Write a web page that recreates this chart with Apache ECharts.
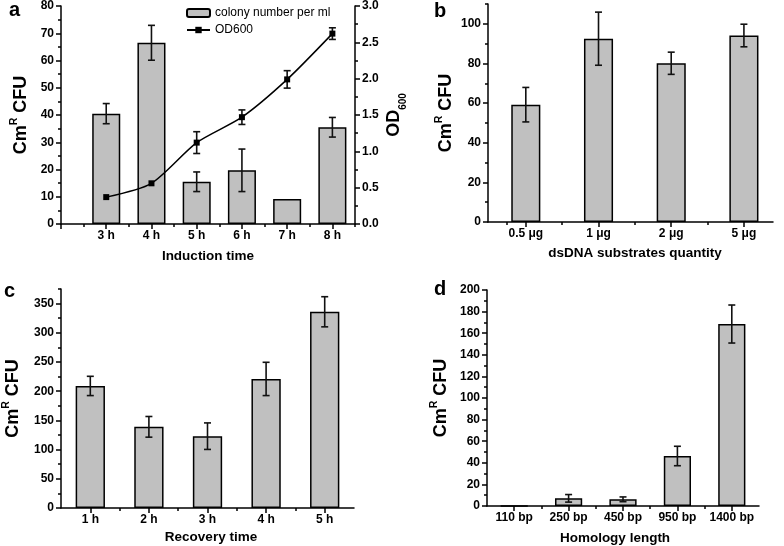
<!DOCTYPE html>
<html><head><meta charset="utf-8">
<script src="https://cdn.jsdelivr.net/npm/echarts@6/dist/echarts.min.js"></script>
<style>html,body{margin:0;padding:0;background:#fff}#c{width:784px;height:546px}</style>
</head><body><div id="c"></div>
<script>
// ---------- Panel a ----------
const aCategories = ['3 h', '4 h', '5 h', '6 h', '7 h', '8 h'];
const aColony = [40.5, 66.5, 15.5, 19.7, 9.2, 35.5];
const aColonyErr = [3.7, 6.4, 3.6, 7.8, 0, 3.6];
const aOD = [0.37, 0.56, 1.12, 1.47, 1.99, 2.62];
const aODErr = [0, 0, 0.15, 0.10, 0.12, 0.08];
const aLeftTicks = [0, 10, 20, 30, 40, 50, 60, 70, 80];
const aRightTicks = [0, 0.5, 1.0, 1.5, 2.0, 2.5, 3.0];
// ---------- Panel b ----------
const bCategories = ['0.5 μg', '1 μg', '2 μg', '5 μg'];
const bValues = [59.2, 92.5, 80.1, 94.1];
const bErr = [8.7, 13.4, 5.6, 5.7];
const bTicks = [0, 20, 40, 60, 80, 100];
// ---------- Panel c ----------
const cCategories = ['1 h', '2 h', '3 h', '4 h', '5 h'];
const cValues = [209, 139, 123, 221, 336];
const cErr = [16.5, 17.7, 22.7, 28.5, 25.8];
const cTicks = [0, 50, 100, 150, 200, 250, 300, 350];
// ---------- Panel d ----------
const dCategories = ['110 bp', '250 bp', '450 bp', '950 bp', '1400 bp'];
const dValues = [0, 7.1, 6.2, 46.3, 168.5];
const dErr = [0, 3.5, 2.2, 9.0, 17.6];
const dTicks = [0, 20, 40, 60, 80, 100, 120, 140, 160, 180, 200];

const FONT = "'Liberation Sans', Arial, sans-serif";
const BLACK = '#000';
const GREY = '#c0c0c0';

function mids(ticks, extraTop) {
  const out = [];
  for (let i = 1; i < ticks.length; i++) out.push((ticks[i - 1] + ticks[i]) / 2);
  if (extraTop != null) out.push(extraTop);
  return out;
}
const yName = {
  name: '{m|Cm}{s|R}{m| CFU}',
  rich: {
    m: {fontSize: 18, fontWeight: 'bold', fontFamily: FONT, color: BLACK, lineHeight: 21, verticalAlign: 'bottom'},
    s: {fontSize: 10.5, fontWeight: 'bold', fontFamily: FONT, color: BLACK, lineHeight: 11, verticalAlign: 'top'}
  }
};

const panels = [
  {cats: aCategories, vals: aColony, err: aColonyErr, grid: {left: 61, top: 6, width: 294, height: 218},
   xMin: -1, xMax: 5.5, xMajor: [-1, 0, 1, 2, 3, 4, 5], xMinor: [-0.5, 0.5, 1.5, 2.5, 3.5, 4.5, 5.5],
   yMax: 80, yTicks: aLeftTicks, yMinor: mids(aLeftTicks), barWidth: '62%', xName: 'Induction time', xGap: 25, yGap: 31,
   xPad: [0, 0, 0, 0], name: 'colony number per ml'},
  {cats: bCategories, vals: bValues, err: bErr, grid: {left: 488, top: 4, width: 285, height: 218},
   xMin: -0.52, xMax: 3.4, xMajor: [0, 1, 2, 3], xMinor: [-0.26, 0.5, 1.5, 2.5],
   yMax: 110, yTicks: bTicks, yMinor: mids(bTicks, 110), barWidth: '40%', xName: 'dsDNA substrates quantity', xGap: 24, yGap: 33,
   xPad: [0, 0, 0, 9]},
  {cats: cCategories, vals: cValues, err: cErr, grid: {left: 59, top: 289, width: 295, height: 219},
   xMin: -0.5, xMax: 4.5, xMajor: [0, 1, 2, 3, 4], xMinor: [0.5, 1.5, 2.5, 3.5],
   yMax: 375, yTicks: cTicks, yMinor: mids(cTicks, 375), barWidth: '50%', xName: 'Recovery time', xGap: 22, yGap: 39,
   xPad: [0, 0, 0, 7]},
  {cats: dCategories, vals: dValues, err: dErr, grid: {left: 487, top: 290, width: 272, height: 216},
   xMin: -0.5, xMax: 4.5, xMajor: [0, 1, 2, 3, 4], xMinor: [0.5, 1.5, 2.5, 3.5],
   yMax: 200, yTicks: dTicks, yMinor: mids(dTicks), barWidth: '50%', xName: 'Homology length', xGap: 25, yGap: 37,
   xPad: [0, 16, 0, 0]}
];

const lineStyle = {color: BLACK, width: 1.5};
const labelStyle = {color: BLACK, fontSize: 12, fontWeight: 'bold', fontFamily: FONT};

const grid = [], xAxis = [], yAxis = [], series = [];

function errSeries(xi, yi, vals, err) {
  return {
    type: 'custom', xAxisIndex: xi, yAxisIndex: yi, z: 5, silent: true,
    encode: {x: 0, y: 1},
    data: vals.map((v, i) => [i, v, err[i]]),
    renderItem: function (params, api) {
      const x = api.value(0), v = api.value(1), e = api.value(2);
      if (!e) return null;
      const t = api.coord([x, v + e]), b = api.coord([x, v - e]);
      const hw = 3.5, st = {stroke: '#111', lineWidth: 1.6};
      return {type: 'group', children: [
        {type: 'line', shape: {x1: t[0], y1: t[1], x2: b[0], y2: b[1]}, style: st},
        {type: 'line', shape: {x1: t[0] - hw, y1: t[1], x2: t[0] + hw, y2: t[1]}, style: st},
        {type: 'line', shape: {x1: b[0] - hw, y1: b[1], x2: b[0] + hw, y2: b[1]}, style: st}
      ]};
    }
  };
}

panels.forEach((p, gi) => {
  grid.push(Object.assign({containLabel: false}, p.grid));
  const xi = xAxis.length;
  xAxis.push({
    type: 'value', gridIndex: gi, position: 'bottom', min: p.xMin, max: p.xMax,
    axisLine: {onZero: false, lineStyle: lineStyle},
    axisTick: {show: true, customValues: p.xMajor, length: 5, lineStyle: lineStyle},
    axisLabel: Object.assign({customValues: p.cats.map((c, i) => i), margin: 6,
      formatter: (v) => p.cats[Math.round(v)] || ''}, labelStyle),
    splitLine: {show: false},
    name: p.xName, nameLocation: 'middle', nameGap: p.xGap,
    nameTextStyle: {fontSize: 13.5, fontWeight: 'bold', fontFamily: FONT, color: BLACK, padding: p.xPad}
  });
  xAxis.push({
    type: 'value', gridIndex: gi, position: 'bottom', min: p.xMin, max: p.xMax,
    axisLine: {show: false, onZero: false},
    axisTick: {show: true, customValues: p.xMinor, length: 3, lineStyle: lineStyle},
    axisLabel: {show: false}, splitLine: {show: false}
  });
  const yi = yAxis.length;
  yAxis.push({
    type: 'value', gridIndex: gi, position: 'left', min: 0, max: p.yMax,
    axisLine: {show: true, onZero: false, lineStyle: lineStyle},
    axisTick: {show: true, customValues: p.yTicks, length: 5, lineStyle: lineStyle},
    axisLabel: Object.assign({customValues: p.yTicks, margin: 7}, labelStyle),
    splitLine: {show: false},
    name: yName.name, nameLocation: 'middle', nameRotate: 90, nameGap: p.yGap,
    nameTextStyle: {rich: yName.rich}
  });
  yAxis.push({
    type: 'value', gridIndex: gi, position: 'left', min: 0, max: p.yMax,
    axisLine: {show: false, onZero: false},
    axisTick: {show: true, customValues: p.yMinor, length: 3, lineStyle: lineStyle},
    axisLabel: {show: false}, splitLine: {show: false}
  });
  series.push({
    type: 'bar', name: p.name, xAxisIndex: xi, yAxisIndex: yi, barWidth: p.barWidth,
    data: p.vals.map((v, i) => [i, v]),
    itemStyle: {color: GREY, borderColor: BLACK, borderWidth: 1.5},
    emphasis: {disabled: true}
  });
  series.push(errSeries(xi, yi, p.vals, p.err));

  if (gi === 0) {
    // right OD600 axis
    const ri = yAxis.length;
    yAxis.push({
      type: 'value', gridIndex: 0, position: 'right', min: 0, max: 3,
      axisLine: {show: true, onZero: false, lineStyle: lineStyle},
      axisTick: {show: true, customValues: aRightTicks, length: 5, lineStyle: lineStyle},
      axisLabel: Object.assign({customValues: aRightTicks, margin: 7, formatter: (v) => v.toFixed(1)}, labelStyle),
      splitLine: {show: false},
      name: '{m|OD}{b|600}', nameLocation: 'middle', nameRotate: 90, nameGap: 30,
      nameTextStyle: {rich: {
        m: {fontSize: 18, fontWeight: 'bold', fontFamily: FONT, color: BLACK, lineHeight: 18, verticalAlign: 'top'},
        b: {fontSize: 10, fontWeight: 'bold', fontFamily: FONT, color: BLACK, lineHeight: 23, verticalAlign: 'bottom'}
      }}
    });
    yAxis.push({
      type: 'value', gridIndex: 0, position: 'right', min: 0, max: 3,
      axisLine: {show: false, onZero: false},
      axisTick: {show: true, customValues: mids(aRightTicks), length: 3, lineStyle: lineStyle},
      axisLabel: {show: false}, splitLine: {show: false}
    });
    series.push({
      type: 'line', name: 'OD600', xAxisIndex: xi, yAxisIndex: ri, smooth: 0.25,
      data: aOD.map((v, i) => [i, v]),
      symbol: 'rect', symbolSize: 6, z: 6,
      lineStyle: {color: BLACK, width: 1.5}, itemStyle: {color: BLACK},
      emphasis: {disabled: true}
    });
    series.push(errSeries(xi, ri, aOD, aODErr));
  }
});

const chart = echarts.init(document.getElementById('c'), null, {renderer: 'canvas'});
chart.setOption({
  animation: false,
  backgroundColor: '#fff',
  grid: grid, xAxis: xAxis, yAxis: yAxis, series: series,
  legend: {
    left: 181, top: 2, orient: 'vertical', itemWidth: 23, itemHeight: 8, itemGap: 5,
    data: ['colony number per ml', 'OD600'],
    textStyle: {fontSize: 12, fontFamily: FONT, color: BLACK},
    selectedMode: false
  },
  graphic: [
    {type: 'text', left: 9, top: 0, style: {text: 'a', font: 'bold 20px ' + FONT, fill: BLACK}},
    {type: 'text', left: 434, top: 1, style: {text: 'b', font: 'bold 20px ' + FONT, fill: BLACK}},
    {type: 'text', left: 4, top: 281, style: {text: 'c', font: 'bold 20px ' + FONT, fill: BLACK}},
    {type: 'text', left: 434, top: 279, style: {text: 'd', font: 'bold 20px ' + FONT, fill: BLACK}}
  ]
});
</script>
</body></html>
